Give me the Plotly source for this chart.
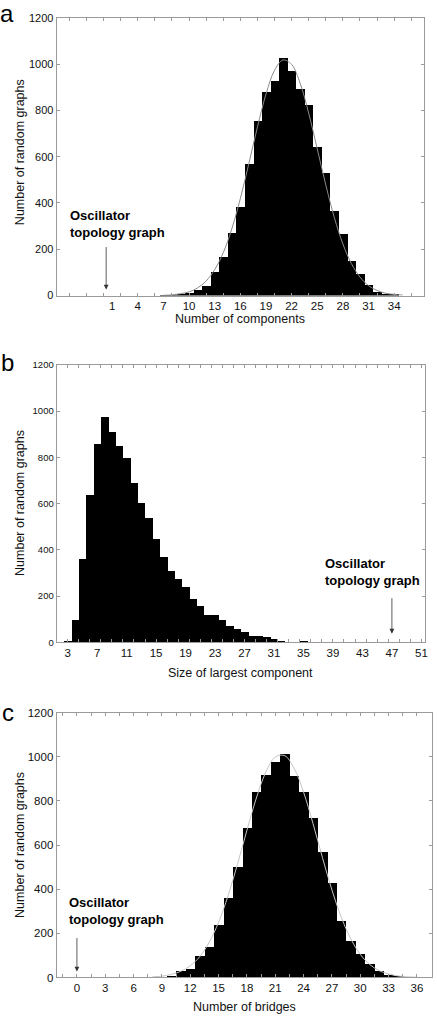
import plotly.graph_objects as go

# ---------------- data ----------------
# Panel a: number of components
a_bins = list(range(7, 35))
a_counts = [1, 2, 4, 11, 24, 44, 103, 167, 269, 383, 567, 756, 880, 927,
            1026, 969, 894, 823, 642, 532, 364, 265, 150, 94, 45, 18, 9, 4]
a_curve_x = list(range(7, 36))
a_curve_y = [1, 3, 8, 16, 33, 63, 112, 185, 288, 419, 571, 728, 870, 973,
             1018, 999, 917, 788, 634, 478, 337, 223, 138, 80, 43, 22, 10, 5, 2]
a_ticks = [1, 4, 7, 10, 13, 16, 19, 22, 25, 28, 31, 34]

# Panel b: size of largest component
b_bins = list(range(3, 38))
b_counts = [5, 96, 360, 640, 860, 975, 910, 852, 797, 688, 604, 540, 450, 370,
            309, 274, 241, 191, 160, 118, 118, 96, 71, 61, 47, 30, 30, 23, 17,
            7, 3, 3, 5, 2, 1]
b_ticks = [3, 7, 11, 15, 19, 23, 27, 31, 35, 39, 43, 47, 51]

# Panel c: number of bridges
c_bins = list(range(8, 36))
c_counts = [1, 3, 7, 30, 42, 101, 138, 238, 360, 503, 677, 841, 917, 977,
            1015, 914, 842, 726, 572, 428, 257, 167, 107, 62, 30, 15, 7, 2]
c_curve_x = list(range(8, 37))
c_curve_y = [3, 6, 14, 28, 53, 94, 159, 250, 370, 513, 667, 813, 930, 999,
             1005, 948, 840, 697, 543, 397, 272, 175, 105, 59, 31, 16, 7, 3, 1]
c_ticks = [0, 3, 6, 9, 12, 15, 18, 21, 24, 27, 30, 33, 36]

y_ticks = [0, 200, 400, 600, 800, 1000, 1200]

# Oscillator topology graph values
osc_a = 0.3
osc_b = 47
osc_c = 0

FONT = "Liberation Sans, Arial, sans-serif"
W, H = 437, 1024

fig = go.Figure()

fig.add_trace(go.Bar(x=a_bins, y=a_counts, width=1, marker=dict(color="black", line=dict(width=0)),
                     xaxis="x", yaxis="y", showlegend=False))
fig.add_trace(go.Scatter(x=a_curve_x, y=a_curve_y, mode="lines", line=dict(color="#8a8a8a", width=1, shape="spline"),
                         xaxis="x", yaxis="y", showlegend=False))
fig.add_trace(go.Bar(x=b_bins, y=b_counts, width=1, marker=dict(color="black", line=dict(width=0)),
                     xaxis="x2", yaxis="y2", showlegend=False))
fig.add_trace(go.Bar(x=c_bins, y=c_counts, width=1, marker=dict(color="black", line=dict(width=0)),
                     xaxis="x3", yaxis="y3", showlegend=False))
fig.add_trace(go.Scatter(x=c_curve_x, y=c_curve_y, mode="lines", line=dict(color="#c4c4c4", width=1, shape="spline"),
                         xaxis="x3", yaxis="y3", showlegend=False))


def px_x(p):
    return p / W


def px_y(p):
    return 1 - p / H


axis_common = dict(showgrid=False, zeroline=False, showline=True, linecolor="#9a9a9a", linewidth=1,
                   mirror="allticks", ticks="inside", tickcolor="#9a9a9a", ticklen=3,
                   tickfont=dict(family=FONT, size=11, color="#111"))
xaxis_common = {k: v for k, v in axis_common.items() if k != "ticklen"}
xaxis_common["tickfont"] = dict(family=FONT, size=11.5, color="#111")

fig.update_layout(
    width=W, height=H, margin=dict(l=0, r=0, t=0, b=0),
    paper_bgcolor="white", plot_bgcolor="white", bargap=0,
    font=dict(family=FONT, color="#111"),
    xaxis=dict(domain=[px_x(57), px_x(427)], range=[-5.5, 37.5], anchor="y",
               tickvals=a_ticks, ticklen=0,
               minor=dict(dtick=2, tick0=0, ticks="inside", ticklen=3, tickcolor="#9a9a9a"),
               **xaxis_common),
    yaxis=dict(domain=[px_y(293), px_y(12)], range=[0, 1200], anchor="x", tickvals=y_ticks, **axis_common),
    xaxis2=dict(domain=[px_x(57), px_x(428)], range=[1.5, 51.5], anchor="y2",
                tickvals=b_ticks, ticklen=0,
                minor=dict(dtick=1.5, tick0=0, ticks="inside", ticklen=3, tickcolor="#9a9a9a"),
                **xaxis_common),
    yaxis2=dict(domain=[px_y(644), px_y(363)], range=[0, 1200], anchor="x2", tickvals=y_ticks,
                **{**axis_common, "tickfont": dict(family=FONT, size=9.5, color="#111")}),
    xaxis3=dict(domain=[px_x(57), px_x(435)], range=[-2.15, 37.6], anchor="y3",
                tickvals=c_ticks, ticklen=0,
                minor=dict(dtick=1.5, tick0=0, ticks="inside", ticklen=3, tickcolor="#9a9a9a"),
                **xaxis_common),
    yaxis3=dict(domain=[px_y(983), px_y(715)], range=[0, 1200], anchor="x3", tickvals=y_ticks,
                **{**axis_common, "tickfont": dict(family=FONT, size=11.5, color="#111")}),
)

ann = []
for letter, xp, yp in [("a", 7, 8), ("b", 8, 361), ("c", 8, 715)]:
    ann.append(dict(text=letter, x=px_x(xp), y=px_y(yp), xref="paper", yref="paper",
                    showarrow=False, xanchor="center", yanchor="middle",
                    font=dict(family=FONT, size=24, color="black")))
for txt, xp, yp in [("Number of components", 242, 317), ("Size of largest component", 242, 675),
                    ("Number of bridges", 246, 1013)]:
    ann.append(dict(text=txt, x=px_x(xp), y=px_y(yp), xref="paper", yref="paper", showarrow=False,
                    xanchor="center", yanchor="middle", font=dict(family=FONT, size=12.5, color="#111")))
for yp in [148, 503, 849]:
    ann.append(dict(text="Number of random graphs", x=px_x(20), y=px_y(yp), xref="paper", yref="paper",
                    showarrow=False, textangle=-90, xanchor="center", yanchor="middle",
                    font=dict(family=FONT, size=12.5, color="#111")))
for xr, yr, tx, ty in [("x", "y", -4.2, 310), ("x2", "y2", 37.6, 305), ("x3", "y3", -1.0, 302)]:
    ann.append(dict(text="<b>Oscillator<br>topology graph</b>", x=tx, y=ty, xref=xr, yref=yr,
                    showarrow=False, xanchor="left", yanchor="middle", align="left",
                    font=dict(family=FONT, size=13, color="black")))
for xr, yr, ax_, ty, ay in [("x", "y", osc_a, 26, -44), ("x2", "y2", osc_b, 38, -37), ("x3", "y3", osc_c, 27, -35)]:
    ann.append(dict(text="", x=ax_, y=ty, xref=xr, yref=yr, showarrow=True, ax=0, ay=ay,
                    arrowhead=2, arrowsize=1.2, arrowwidth=0.8, arrowcolor="#333"))
fig.update_layout(annotations=ann)

fig.write_html("out.html", config={"displayModeBar": False},
               post_script="document.body.style.margin='0';document.body.style.overflow='hidden';")
